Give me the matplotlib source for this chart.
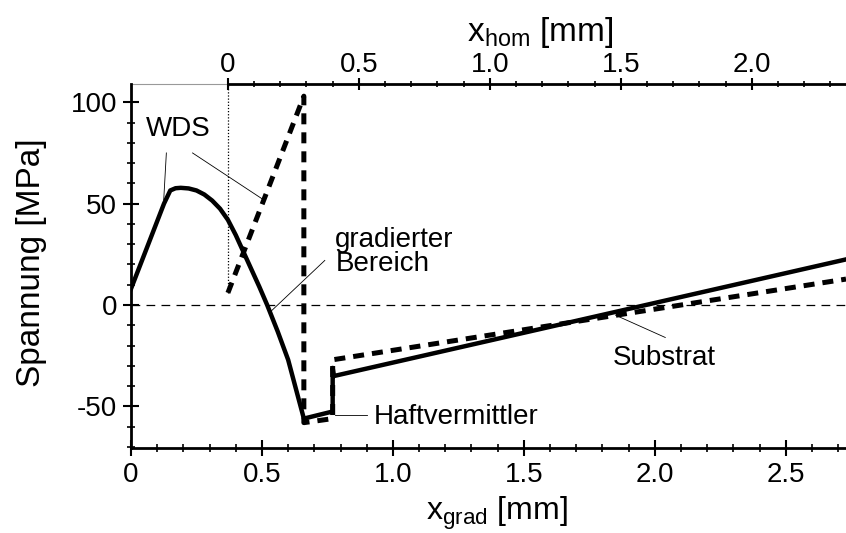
import matplotlib
matplotlib.use("Agg")
from matplotlib import pyplot as plt
from matplotlib.ticker import MultipleLocator, FixedLocator, FixedFormatter

plt.rcParams['font.family'] = ['Liberation Sans', 'DejaVu Sans']
plt.rcParams['axes.unicode_minus'] = False

# offset between the two x scales (x_hom = x_grad - offset)
hom_offset = 0.37

# graded coating (solid line)
grad_x = [0.0, 0.126, 0.15, 0.17, 0.19, 0.22, 0.25, 0.28, 0.31, 0.34, 0.37, 0.40,
          0.43, 0.46, 0.49, 0.52, 0.56, 0.60, 0.66, 0.77, 0.77, 0.775, 2.73]
grad_y = [8, 50, 56.5, 57.6, 57.8, 57.5, 56.5, 54.5, 51.5, 47.5, 42, 34.5,
          26, 17.5, 9, 0, -13, -27, -56, -52.5, -31, -35, 22.5]

# homogeneous coating (thick dashed line)
hom_x = [0.37, 0.66, 0.66, 0.77, 0.77, 2.73]
hom_y = [6, 103, -58, -56, -27, 12.8]

x_ticks_grad = [0, 0.5, 1.0, 1.5, 2.0, 2.5]
x_labels_grad = ["0", "0.5", "1.0", "1.5", "2.0", "2.5"]
x_ticks_hom = [0, 0.5, 1.0, 1.5, 2.0]
x_labels_hom = ["0", "0.5", "1.0", "1.5", "2.0"]
y_ticks = [-50, 0, 50, 100]

fig = plt.figure(figsize=(8.46, 5.33), dpi=100)
ax = fig.add_axes([131 / 846, 85 / 533, 715 / 846, 364 / 533])

x_min, x_max = 0.0, 2.73
y_min, y_max = -70.5, 109

ax.plot(grad_x, grad_y, color="black", linewidth=3.2, solid_joinstyle="round")
ax.plot(hom_x, hom_y, color="black", linewidth=3.6, dashes=(2.2, 1.6))
ax.axhline(0, color="black", linewidth=0.9, dashes=(7, 5))
ax.plot([hom_offset, hom_offset], [6, y_max], color="black", linewidth=0.9, linestyle=(0, (1, 1.5)))

ax.set_xlim(x_min, x_max)
ax.set_ylim(y_min, y_max)

for side in ["top", "right"]:
    ax.spines[side].set_visible(False)
for side in ["left", "bottom"]:
    ax.spines[side].set_linewidth(2)

ax.xaxis.set_major_locator(FixedLocator(x_ticks_grad))
ax.xaxis.set_major_formatter(FixedFormatter(x_labels_grad))
ax.xaxis.set_minor_locator(MultipleLocator(0.1))
ax.yaxis.set_major_locator(FixedLocator(y_ticks))
ax.yaxis.set_minor_locator(MultipleLocator(10))
ax.tick_params(which="major", direction="inout", length=12, width=1.5, labelsize=20, pad=4)
ax.tick_params(which="minor", direction="inout", length=6, width=1.2)

ax.set_xlabel(r"x$_{\mathregular{grad}}$ [mm]", fontsize=23)
ax.xaxis.set_label_coords((497 - 131) / 715, -47 / 364)
ax.set_ylabel("Spannung [MPa]", fontsize=24)
ax.yaxis.set_label_coords(-(131 - 47) / 715, 0.51)

# top axis for homogeneous coating
top = ax.twiny()
top.set_xlim(x_min - hom_offset, x_max - hom_offset)
for side in ["bottom", "left", "right"]:
    top.spines[side].set_visible(False)
top.spines["top"].set_linewidth(2)
top.spines["top"].set_bounds(0, x_max - hom_offset)
top.xaxis.set_major_locator(FixedLocator(x_ticks_hom))
top.xaxis.set_major_formatter(FixedFormatter(x_labels_hom))
top.xaxis.set_minor_locator(FixedLocator([i / 10 for i in range(0, 24)]))
top.tick_params(which="major", direction="inout", length=9, width=1.5, labelsize=20, pad=0)
top.tick_params(which="minor", direction="inout", length=5, width=1.2)
top.set_xlabel(r"x$_{\mathregular{hom}}$ [mm]", fontsize=24)
top.xaxis.set_label_coords((540 - 131) / 715, 1 + 43 / 364)
ax.plot([x_min, hom_offset], [y_max, y_max], color="0.6", linewidth=0.8, clip_on=False)

# annotations
ax.text(0.055, 87, "WDS", fontsize=20, va="center", ha="left")
ax.plot([0.135, 0.125], [75, 52], color="black", linewidth=0.6)
ax.plot([0.235, 0.505], [75, 52], color="black", linewidth=0.6)

ax.text(0.78, 26, "gradierter\nBereich", fontsize=20, va="center", ha="left", linespacing=0.9)
ax.plot([0.74, 0.535], [22, -3], color="black", linewidth=0.6)

ax.text(0.925, -55, "Haftvermittler", fontsize=20, va="center", ha="left")
ax.plot([0.78, 0.90], [-54, -54], color="black", linewidth=0.6)

ax.text(1.84, -26, "Substrat", fontsize=20, va="center", ha="left")
ax.plot([2.04, 1.85], [-16, -5], color="black", linewidth=0.6)

fig.savefig("out.png", dpi=100)
